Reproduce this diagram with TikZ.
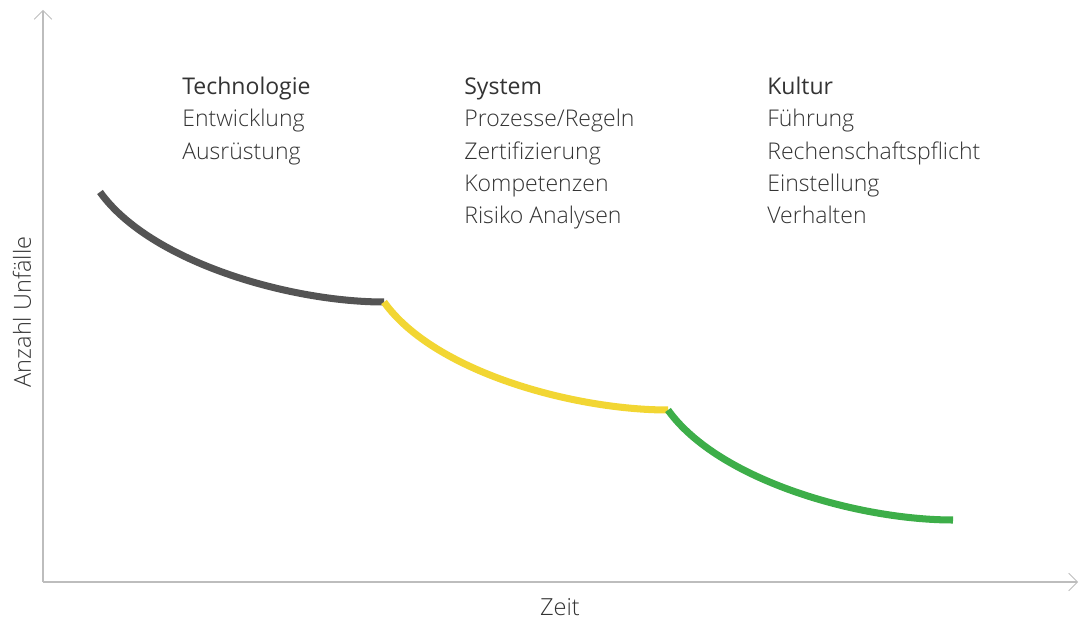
\documentclass[tikz,border=0pt]{standalone}
\usepackage{fontspec}
\setmainfont{Open Sans}
\newfontfamily\lightfont[Ligatures=NoCommon]{Open Sans Light}
\usetikzlibrary{arrows.meta}
\definecolor{axisgray}{HTML}{BDBDBD}
\definecolor{techgray}{HTML}{545454}
\definecolor{sysyellow}{HTML}{F2D633}
\definecolor{kultgreen}{HTML}{3DAE49}
\definecolor{textgray}{HTML}{333333}
\newcommand{\colhead}[1]{{\normalfont\vphantom{l}#1}}
\tikzset{
  axis/.style={draw=axisgray, line width=0.6pt, -{Straight Barb[length=5pt,width=10pt,line width=0.5pt]}},
  phase/.style={line width=4pt, line cap=butt},
  col/.style={anchor=north west, align=left, text=textgray, font=\lightfont\fontsize{13.1}{18.3}\selectfont, inner sep=0pt},
  lab/.style={text=textgray, font=\lightfont\fontsize{13.4}{15}\selectfont, inner sep=0pt}
}
\begin{document}
\begin{tikzpicture}[x=0.02cm, y=-0.02cm]
\useasboundingbox (0,0) rectangle (1090,618);

\coordinate (o) at (43,582);
\coordinate (ytop) at (43,10);
\coordinate (xend) at (1078,582);
\draw[axis] (o) -- (ytop);
\draw[axis] (o) -- (xend);

\node[lab] (zeit) at (560,607) {Zeit};
\node[lab, rotate=90] (anzahl) at (22,312) {Anzahl Unfälle};

\coordinate (p0) at (100,192);
\coordinate (p1) at (384,302);
\coordinate (p2) at (668,410);
\coordinate (p3) at (953,520);
\draw[phase, techgray]   (p0) .. controls (150,262) and (290,302) .. (p1);
\draw[phase, sysyellow]  (p1) .. controls (434,372) and (574,410) .. (p2);
\draw[phase, kultgreen]  (p2) .. controls (718,480) and (858,520) .. (p3);

\node[col] (tech) at (182,77) {\colhead{Technologie}\\Entwicklung\\Ausrüstung};
\node[col] (sys) at (464,77) {\colhead{System}\\Prozesse/Regeln\\Zertifizierung\\Kompetenzen\\Risiko Analysen};
\node[col] (kult) at (767,77) {\colhead{Kultur}\\Führung\\Rechenschaftspflicht\\Einstellung\\Verhalten};
\end{tikzpicture}
\end{document}
